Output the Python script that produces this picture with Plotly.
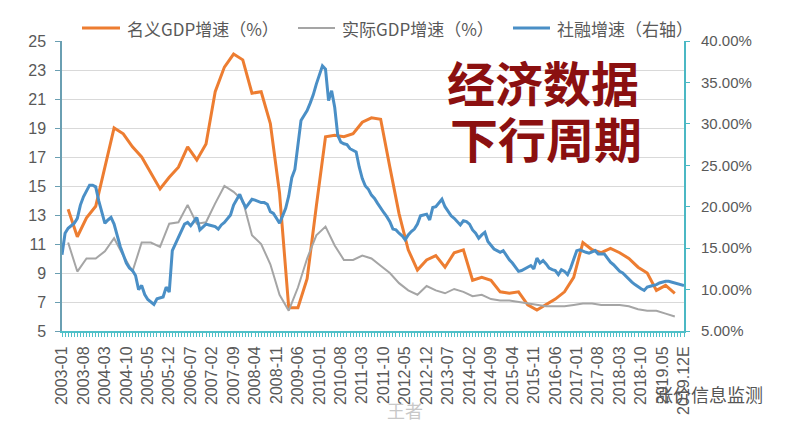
import plotly.graph_objects as go

# ---------------- data ----------------
months = [f"{y}-{m:02d}" for y in range(2003, 2020) for m in range(1, 13)]
quarters = [f"{y}-{m:02d}" for y in range(2003, 2020) for m in (3, 6, 9, 12)][:67]

tick_months = ["2003-01", "2003-08", "2004-03", "2004-10", "2005-05", "2005-12",
               "2006-07", "2007-02", "2007-09", "2008-04", "2008-11", "2009-06",
               "2010-01", "2010-08", "2011-03", "2011-10", "2012-05", "2012-12",
               "2013-07", "2014-02", "2014-09", "2015-04", "2015-11", "2016-06",
               "2017-01", "2017-08", "2018-03", "2018-10", "2019-05", "2019-12"]
tick_labels = ["2003-01", "2003-08", "2004-03", "2004-10", "2005-05", "2005-12",
               "2006-07", "2007-02", "2007-09", "2008-04", "2008-11", "2009-06",
               "2010-01", "2010-08", "2011-03", "2011-10", "2012-05", "2012-12",
               "2013-07", "2014-02", "2014-09", "2015-04", "2015-11", "2016-06",
               "2017-01", "2017-08", "2018-03", "2018-10", "2019.05", "2019.12E"]

# 名义GDP增速 (%), quarterly
nominal_gdp = [13.4, 11.5, 12.8, 13.6, 16.3, 19.0, 18.6, 17.7, 17.0, 15.9,
               14.8, 15.6, 16.3, 17.7, 16.8, 17.9, 21.5, 23.2, 24.1, 23.7,
               21.4, 21.5, 19.3, 14.5, 6.6, 6.6, 8.6, 13.6, 18.4, 18.5,
               18.4, 18.6, 19.4, 19.7, 19.6, 16.3, 13.1, 10.6, 9.2, 9.9,
               10.2, 9.4, 10.4, 10.6, 8.5, 8.7, 8.5, 7.7, 7.6, 7.7,
               6.8, 6.45, 6.85, 7.2, 7.7, 8.7, 11.1, 10.6, 10.4, 10.7,
               10.4, 10.0, 9.4, 9.0, 7.8, 8.15, 7.6]

# 实际GDP增速 (%), quarterly
real_gdp = [11.1, 9.1, 10.0, 10.0, 10.5, 11.4, 10.2, 9.1, 11.1, 11.1,
            10.8, 12.4, 12.5, 13.7, 12.4, 12.5, 13.8, 15.0, 14.6, 14.0,
            11.6, 11.0, 9.6, 7.5, 6.4, 8.0, 10.0, 11.6, 12.2, 10.9,
            9.9, 9.9, 10.2, 10.0, 9.5, 9.0, 8.3, 7.8, 7.5, 8.1,
            7.8, 7.6, 7.9, 7.7, 7.4, 7.5, 7.2, 7.1, 7.1, 7.0,
            6.9, 6.8, 6.7, 6.7, 6.7, 6.8, 6.9, 6.9, 6.8, 6.8,
            6.8, 6.7, 6.5, 6.4, 6.4, 6.2, 6.0]

# 社融增速 (%), monthly, right axis
tsf_growth = [14.2, 16.8, 17.4, 17.7, 18.0, 18.6, 20.2, 21.2, 22.0, 22.6,
              22.6, 22.4, 20.7, 19.3, 18.0, 18.4, 18.7, 17.9, 16.4, 15.2,
              14.2, 13.2, 12.6, 12.3, 11.7, 10.0, 10.5, 9.4, 8.8, 8.5,
              8.2, 8.9, 9.0, 9.1, 10.3, 9.7, 14.7, 15.5, 16.4, 17.2,
              17.9, 18.1, 17.7, 18.2, 18.7, 17.2, 17.6, 17.9, 17.8, 17.7,
              17.6, 17.3, 17.8, 18.1, 18.6, 19.0, 20.2, 20.9, 21.5, 20.6,
              19.9, 20.4, 20.9, 20.8, 20.6, 20.5, 20.5, 20.3, 19.4, 19.2,
              18.6, 18.0, 18.9, 19.8, 21.3, 23.5, 24.5, 27.5, 30.4, 31.0,
              31.6, 32.5, 33.5, 34.8, 35.9, 37.0, 36.6, 32.8, 34.0, 32.0,
              28.6, 27.8, 27.6, 27.5, 27.0, 26.8, 26.6, 24.8, 23.4, 22.5,
              22.1, 21.4, 21.0, 20.4, 19.8, 19.3, 18.8, 18.2, 17.3, 17.2,
              16.8, 16.5, 16.0, 16.6, 17.0, 17.3, 17.9, 18.9, 19.0, 19.1,
              18.4, 19.9, 20.0, 20.5, 20.9, 20.0, 19.4, 18.9, 18.6, 18.2,
              17.8, 18.3, 18.2, 17.9, 17.2, 16.8, 16.2, 16.6, 16.9, 15.8,
              15.3, 14.9, 14.7, 14.5, 14.7, 14.1, 13.6, 13.2, 12.7, 12.2,
              12.3, 12.5, 12.7, 12.9, 12.5, 13.8, 13.2, 13.5, 13.1, 12.6,
              12.4, 12.3, 11.8, 12.4, 12.2, 11.8, 12.6, 13.8, 14.7, 14.8,
              14.6, 14.5, 14.4, 14.6, 14.7, 14.3, 14.3, 14.3, 13.8, 13.3,
              13.0, 12.6, 12.2, 12.0, 11.6, 11.2, 10.9, 10.6, 10.3, 10.1,
              9.9, 10.3, 10.4, 10.5, 10.6, 10.8, 10.9, 11.0, 11.0, 10.9,
              10.8, 10.7, 10.6, 10.5]

series_names = ["名义GDP增速（%）", "实际GDP增速（%）", "社融增速（右轴）"]
series_colors = ["#ED7D31", "#A5A5A5", "#4A8FC6"]
series_widths = [3, 2, 3]
left_ticks = list(range(5, 26, 2))
right_ticks = list(range(5, 41, 5))
right_labels = [f"{v:.2f}%" for v in right_ticks]

# ---------------- figure ----------------
FONT = "Liberation Sans, Arial, Noto Sans CJK SC, sans-serif"
CJK = "Noto Sans CJK SC, sans-serif"
TXT = "#595959"

label_map = dict(zip(tick_months, tick_labels))
x_ticktext = [label_map.get(m, "") for m in months]

fig = go.Figure()
fig.add_trace(go.Scatter(x=quarters, y=nominal_gdp, name=series_names[0], mode="lines",
                         line=dict(color=series_colors[0], width=series_widths[0])))
fig.add_trace(go.Scatter(x=quarters, y=real_gdp, name=series_names[1], mode="lines",
                         line=dict(color=series_colors[1], width=series_widths[1])))
fig.add_trace(go.Scatter(x=months, y=tsf_growth, name=series_names[2], mode="lines",
                         line=dict(color=series_colors[2], width=series_widths[2]),
                         yaxis="y2"))

PX_L, PX_R, PX_T, PX_B = 62, 684, 41, 331


def px_x(px):
    return (px - PX_L) / (PX_R - PX_L)


def px_y(py):
    return (PX_B - py) / (PX_B - PX_T)


fig.update_layout(
    width=791, height=430,
    margin=dict(l=PX_L, r=791 - PX_R, t=PX_T, b=430 - PX_B, autoexpand=False),
    paper_bgcolor="white", plot_bgcolor="white",
    font=dict(family=FONT, color=TXT, size=16),
    showlegend=False,
    xaxis=dict(type="category", categoryorder="array", categoryarray=months,
               range=[0, 203], tickmode="array", tickvals=months, ticktext=x_ticktext,
               tickangle=-90, ticks="outside", ticklen=4, tickcolor="#4FC0C8",
               showline=True, linecolor="#4FC0C8", linewidth=2, showgrid=False,
               tickfont=dict(family=FONT, size=16, color=TXT), ticklabelstandoff=3),
    yaxis=dict(range=[5, 25], tickmode="array", tickvals=left_ticks,
               showgrid=True, gridcolor="#D9D9D9", gridwidth=1,
               showline=True, linecolor="#6A9FB2", linewidth=1.5,
               ticks="outside", ticklen=5, tickcolor="#6A9FB2",
               tickfont=dict(family=FONT, size=16, color=TXT),
               ticklabelstandoff=6, zeroline=False),
    yaxis2=dict(range=[5, 40], overlaying="y", side="right", tickmode="array",
                tickvals=right_ticks, ticktext=right_labels,
                showgrid=False, showline=True, linecolor="#4BB8C4", linewidth=2,
                ticks="outside", ticklen=4, tickcolor="#4BB8C4",
                tickfont=dict(family=FONT, size=15, color=TXT),
                ticklabelstandoff=8, zeroline=False),
)

# legend drawn manually (one row, as in the reference)
legend_line_px = [(82, 120), (298, 335), (513, 550)]
for (x0, x1), name, col, w in zip(legend_line_px, series_names, series_colors, series_widths):
    fig.add_shape(type="line", xref="paper", yref="paper",
                  x0=px_x(x0), x1=px_x(x1), y0=px_y(28), y1=px_y(28),
                  line=dict(color=col, width=w))
    fig.add_annotation(text=name, xref="paper", yref="paper", x=px_x(x1 + 5), y=px_y(29),
                       xanchor="left", yanchor="middle", showarrow=False,
                       font=dict(family=CJK, size=17, color=TXT))

fig.add_annotation(text="经济数据", xref="paper", yref="paper", x=px_x(543), y=px_y(81),
                   xanchor="center", yanchor="middle", showarrow=False, height=52,
                   valign="middle",
                   font=dict(family=CJK, size=48, color="#8B1010", weight="bold"))
fig.add_annotation(text="下行周期", xref="paper", yref="paper", x=px_x(546), y=px_y(137),
                   xanchor="center", yanchor="middle", showarrow=False, height=52,
                   valign="middle",
                   font=dict(family=CJK, size=48, color="#8B1010", weight="bold"))
fig.add_annotation(text="涨价信息监测", xref="paper", yref="paper", x=px_x(709), y=px_y(394),
                   xanchor="center", yanchor="middle", showarrow=False,
                   font=dict(family=CJK, size=18, color="#555555"))
fig.add_annotation(text="王者", xref="paper", yref="paper", x=px_x(405), y=px_y(410),
                   xanchor="center", yanchor="middle", showarrow=False,
                   font=dict(family=CJK, size=18, color="#C8C8C8"))

fig.write_html("out.html")
